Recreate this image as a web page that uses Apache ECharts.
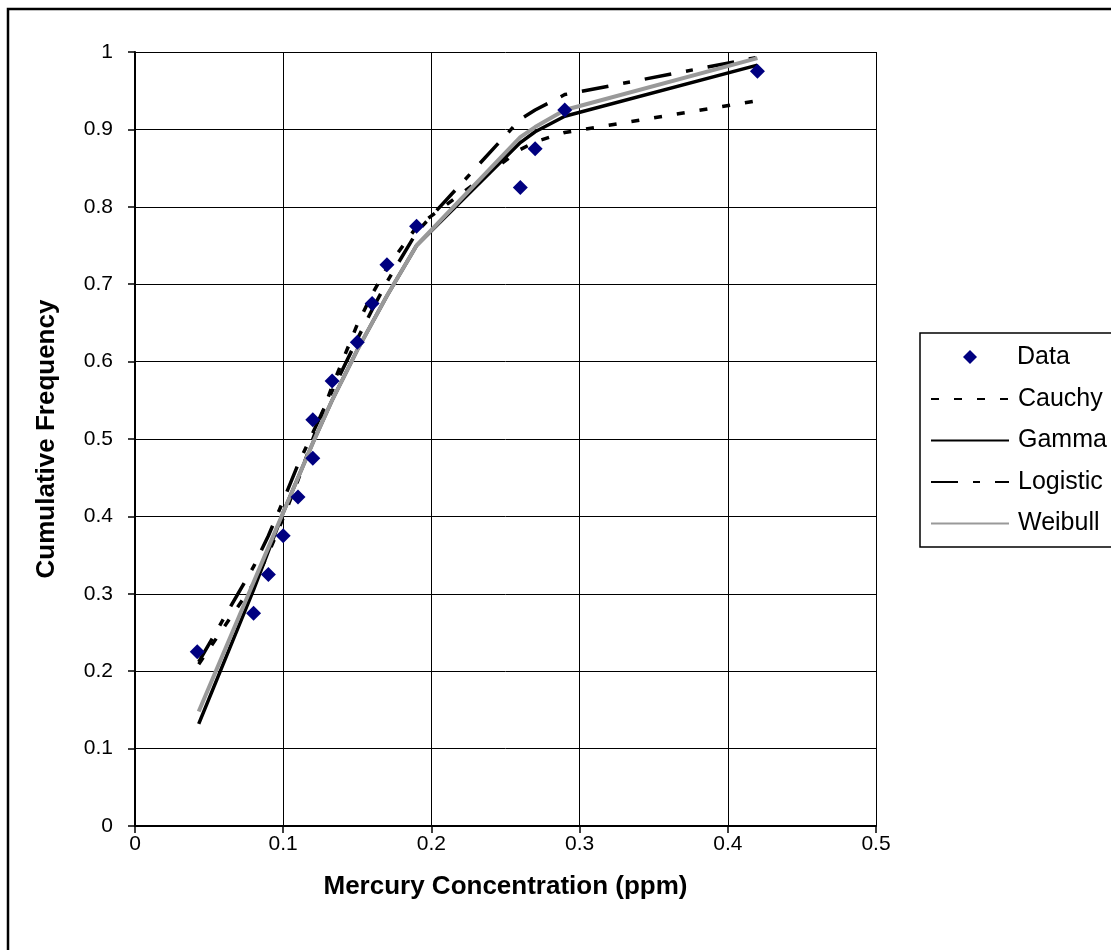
<!DOCTYPE html>
<html>
<head>
<meta charset="utf-8">
<script src="https://cdn.jsdelivr.net/npm/echarts@6/dist/echarts.min.js"></script>
<style>
html,body{margin:0;padding:0;background:#fff;}
#chart{width:1111px;height:950px;}
</style>
</head>
<body>
<div id="chart"></div>
<script>
// Data
const xValues   = [0.042, 0.08, 0.09, 0.10, 0.11, 0.12, 0.12, 0.133, 0.15, 0.16, 0.17, 0.19, 0.26, 0.27, 0.29, 0.42];
const dataFreq  = [0.225, 0.275, 0.325, 0.375, 0.425, 0.475, 0.525, 0.575, 0.625, 0.675, 0.725, 0.775, 0.825, 0.875, 0.925, 0.975];
const lineX     = [0.043, 0.08, 0.09, 0.10, 0.11, 0.12, 0.133, 0.15, 0.16, 0.17, 0.19, 0.26, 0.27, 0.29, 0.42];
const cauchy    = [0.209, 0.313, 0.352, 0.398, 0.447, 0.50, 0.568, 0.648, 0.687, 0.721, 0.774, 0.874, 0.884, 0.896, 0.937];
const gamma     = [0.132, 0.305, 0.355, 0.405, 0.450, 0.495, 0.550, 0.615, 0.650, 0.685, 0.750, 0.883, 0.897, 0.917, 0.983];
const logistic  = [0.212, 0.335, 0.375, 0.420, 0.467, 0.508, 0.562, 0.629, 0.667, 0.703, 0.767, 0.913, 0.925, 0.945, 0.993];
const weibull   = [0.148, 0.315, 0.360, 0.405, 0.450, 0.495, 0.550, 0.615, 0.650, 0.685, 0.750, 0.890, 0.903, 0.925, 0.992];
const xTicks = [0, 0.1, 0.2, 0.3, 0.4, 0.5];
const yTicks = [0, 0.1, 0.2, 0.3, 0.4, 0.5, 0.6, 0.7, 0.8, 0.9, 1];
const lineNames = ['Cauchy', 'Gamma', 'Logistic', 'Weibull'];

const pair = (xs, ys) => xs.map((x, i) => [x, ys[i]]);
const FONT = '"Liberation Sans", Arial, sans-serif';
const tickFmt = list => v => { const t = list.find(k => Math.abs(k - v) < 1e-9); return t === undefined ? '' : String(t); };

const chart = echarts.init(document.getElementById('chart'), null, {renderer: 'canvas'});
const option = {
  backgroundColor: '#ffffff',
  animation: false,
  textStyle: {fontFamily: FONT, color: '#000'},
  graphic: [
    {type: 'rect', silent: true, z: -1,
     shape: {x: 8, y: 9, width: 1130, height: 970},
     style: {fill: 'none', stroke: '#000', lineWidth: 2.5}},
    {type: 'rect', silent: true, z: 0,
     shape: {x: 920, y: 333, width: 220, height: 214},
     style: {fill: '#fff', stroke: '#000', lineWidth: 1.5}}
  ],
  grid: {left: 135, right: 235, top: 52, bottom: 124, containLabel: false},
  xAxis: {
    type: 'value', min: 0, max: 0.5, interval: 0.1,
    name: 'Mercury Concentration (ppm)', nameLocation: 'middle', nameGap: 48,
    nameTextStyle: {fontFamily: FONT, fontSize: 26, fontWeight: 'bold', color: '#000'},
    axisLine: {show: true, onZero: false, lineStyle: {color: '#000', width: 2}},
    axisTick: {show: true, inside: false, length: 7, lineStyle: {color: '#000', width: 1.5}},
    axisLabel: {fontFamily: FONT, fontSize: 21, color: '#000', margin: 8, formatter: tickFmt(xTicks)},
    splitLine: {show: true, lineStyle: {color: '#000', width: 1}}
  },
  yAxis: {
    type: 'value', min: 0, max: 1, interval: 0.1,
    name: 'Cumulative Frequency', nameLocation: 'middle', nameGap: 75, nameRotate: 90,
    nameTextStyle: {fontFamily: FONT, fontSize: 26, fontWeight: 'bold', color: '#000'},
    axisLine: {show: true, onZero: false, lineStyle: {color: '#000', width: 2}},
    axisTick: {show: true, inside: false, length: 7, lineStyle: {color: '#000', width: 1.5}},
    axisLabel: {fontFamily: FONT, fontSize: 21, color: '#000', margin: 22, formatter: tickFmt(yTicks)},
    splitLine: {show: true, lineStyle: {color: '#000', width: 1}}
  },
  legend: [
    {
      orient: 'vertical', left: 963, top: 344, padding: 0,
      itemWidth: 14, itemHeight: 14, itemGap: 0,
      textStyle: {fontFamily: FONT, fontSize: 25, color: '#000', lineHeight: 26, padding: [0, 0, 0, 35]},
      data: [{name: 'Data', icon: 'diamond'}]
    },
    {
      orient: 'vertical', left: 930, top: 386, padding: 0,
      itemWidth: 78, itemHeight: 14, itemGap: 15.5,
      itemStyle: {opacity: 0},
      textStyle: {fontFamily: FONT, fontSize: 25, color: '#000', lineHeight: 26, padding: [0, 0, 0, 4]},
      data: lineNames
    }
  ],
  series: [
    {name: 'Cauchy', type: 'line', data: pair(lineX, cauchy), symbol: 'none', z: 3,
      lineStyle: {color: '#000', width: 3.5, type: [8, 15]}, itemStyle: {color: '#000'}},
    {name: 'Gamma', type: 'line', data: pair(lineX, gamma), symbol: 'none', z: 3,
      lineStyle: {color: '#000', width: 3.5, type: 'solid'}, itemStyle: {color: '#000'}},
    {name: 'Logistic', type: 'line', data: pair(lineX, logistic), symbol: 'none', z: 3,
      lineStyle: {color: '#000', width: 3.5, type: [27, 15, 7, 15]}, itemStyle: {color: '#000'}},
    {name: 'Weibull', type: 'line', data: pair(lineX, weibull), symbol: 'none', z: 4,
      lineStyle: {color: '#999999', width: 4, type: 'solid'}, itemStyle: {color: '#999999'}},
    {name: 'Data', type: 'scatter', data: pair(xValues, dataFreq), symbol: 'diamond', symbolSize: 15, z: 5,
      itemStyle: {color: '#000080', opacity: 1}}
  ]
};
chart.setOption(option);
</script>
</body>
</html>
